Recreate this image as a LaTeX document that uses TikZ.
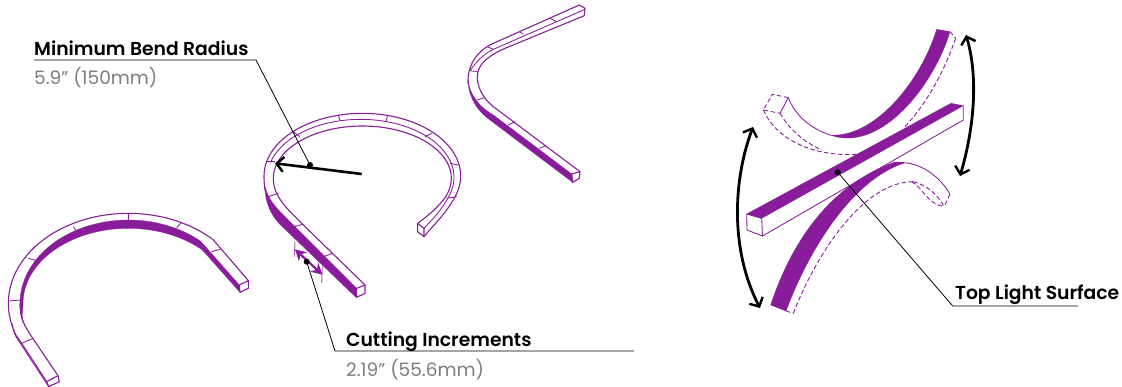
\documentclass[tikz,border=0pt]{standalone}
\usepackage{fontspec}
\setmainfont[BoldFont={Poppins SemiBold}]{Poppins}
\usetikzlibrary{arrows.meta}
\definecolor{pur}{RGB}{136,28,155}
\definecolor{gry}{RGB}{125,125,125}
\tikzset{
  ep/.style={samples=50,variable=\a},
  edge/.style={draw=pur,line width=1.1pt,line join=round},
  thin edge/.style={draw=pur,line width=0.85pt,line join=round},
  dash edge/.style={draw=pur,line width=0.9pt,dash pattern=on 4.5pt off 2.5pt},
  band/.style={fill=pur,draw=pur,line width=0.3pt},
  leader/.style={draw=black,line width=0.8pt},
  dotnode/.style={circle,fill=black,inner sep=0pt,minimum size=6pt},
  head/.style={anchor=base west,inner sep=0pt,font=\bfseries\fontsize{18.75}{20}\selectfont},
  sub/.style={anchor=base west,inner sep=0pt,text=gry,font=\fontsize{18.5}{22}\selectfont},
  bigarrow/.style={draw=black,line width=2.8pt,{Straight Barb[length=7pt,width=15pt,line width=2.4pt]}-{Straight Barb[length=7pt,width=15pt,line width=2.4pt]}},
  onearrow/.style={draw=black,line width=2.6pt,-{Straight Barb[length=7pt,width=15pt,line width=2.4pt]}},
  cutarrow/.style={draw=pur,line width=2.2pt,{Stealth[length=11pt,width=12pt]}-{Stealth[length=11pt,width=12pt]}},
  tick/.style={draw=pur!70,line width=1pt},
  z3/.style={x=0.33333pt,y=-0.33333pt}
}
\begin{document}
\begin{tikzpicture}[x=1pt,y=-1pt]
\useasboundingbox (0,0) rectangle (1122,387);

% LEFT U SHAPE
\begin{scope}[shift={(0,190)},z3]
 \fill[band] plot[ep,domain=180:48] ({385+325*cos(\a)},{340-250*sin(\a)}) -- (718,285) -- (720,307) -- (608,181) -- plot[ep,domain=45:180] ({385+316*cos(\a)},{340-225*sin(\a)}) .. controls (68,360) and (66,380) .. (68,395) .. controls (62,380) and (60,360) .. (60,340);
 \draw[edge] (174,557) -- (95,440) .. controls (75,410) and (60,385) .. (60,340);
 \draw[edge] (140,575) -- (65,460) .. controls (50,440) and (44,430) .. (41,419) -- plot[ep,domain=197:45] ({385+360*cos(\a)},{340-270*sin(\a)}) -- (745,272);
 \draw[thin edge] (146,590) -- (48,440) .. controls (42,428) and (38,415) .. (36,400);
 \draw[edge] (718,285)--(745,272)--(745,295)--(720,307)--cycle;
 \draw[edge] (140,575)--(174,557)--(178,575)--(146,590)--cycle;
 \draw[thin edge] (385,70)--(385,90) (545,97)--(530,113) (220,110)--(230,125) (85,205)--(110,212) (28,333)--(60,330) (65,460)--(100,445) (635,185)--(660,178);
\end{scope}

% MIDDLE SHAPE
\begin{scope}[shift={(250,100)},z3]
 \fill[band] (46,262) .. controls (55,300) and (80,325) .. (110,355) -- (320,565) -- (318,592) -- (95,378) .. controls (70,355) and (50,320) .. (46,280) -- cycle;
 \draw[edge] (345,555) -- (160,375) .. controls (110,325) and (70,290) .. (70,235) -- plot[ep,domain=180:-25] ({337+267*cos(\a)},{235-157*sin(\a)}) .. controls (550,335) and (530,350) .. (503,370);
 \draw[edge] (46,275) .. controls (43,260) and (42,245) .. (42,228) -- plot[ep,domain=180:-20] ({337+295*cos(\a)},{228-188*sin(\a)}) .. controls (585,345) and (550,375) .. (522,410);
 \draw[thin edge] plot[ep,domain=165:-18] ({332+280*cos(\a)},{232-174*sin(\a)}) .. controls (575,330) and (555,350) .. (522,385);
 \draw[edge] (503,370)--(522,385)--(522,410)--(503,395)--cycle;
 \draw[edge] (320,565)--(345,555)--(345,580)--(320,592)--cycle;
 \draw[thin edge] (50,185)--(75,185) (55,290)--(85,280) (135,380)--(160,372) (220,470)--(248,460) (130,95)--(150,110) (265,45)--(270,62) (412,48)--(408,65) (525,110)--(545,100) (600,190)--(625,195) (590,295)--(620,290);
 \draw[tick] (135,425)--(133,470) (217,500)--(215,548);
 \coordinate (cutA) at (135,448);
 \coordinate (cutB) at (217,524);
 \draw[cutarrow] (cutA)--(cutB);
 \coordinate (radC) at (335,222);
 \coordinate (radT) at (75,190);
 \draw[onearrow] (radC)--(radT);
 \node[dotnode] (dotR) at (180,195) {};
 \node[dotnode] (dotC) at (170,485) {};
\end{scope}

% RIGHT TOP SHAPE
\begin{scope}[shift={(450,0)},z3]
 \fill[band] (54,240) .. controls (58,280) and (85,320) .. (130,345) -- (365,522) -- (368,547) -- (120,360) .. controls (85,335) and (60,300) .. (54,250) -- cycle;
 \draw[edge] (54,250) -- (54,240) .. controls (55,190) and (85,150) .. (130,130) -- (388,15);
 \draw[thin edge] (405,28) -- (130,148) .. controls (100,162) and (75,190) .. (60,212);
 \draw[edge] (403,47) -- (165,145) .. controls (110,170) and (80,195) .. (82,235) .. controls (84,270) and (105,300) .. (130,320) -- (390,515);
 \draw[edge] (388,15)--(405,25)--(403,47);
 \draw[edge] (365,522)--(390,515)--(388,535)--(368,547)--cycle;
 \draw[thin edge] (60,212)--(82,215) (80,300)--(105,293) (175,375)--(195,365) (268,445)--(288,437) (112,140)--(130,148) (208,95)--(220,103) (300,55)--(318,65);
\end{scope}

% RIGHT ASSEMBLY: upper curve
\begin{scope}[shift={(730,20)},z3]
 \fill[band] (620,28) .. controls (570,190) and (430,355) .. (300,345) .. controls (450,400) and (610,200) .. (660,35) -- cycle;
 \draw[thin edge] (300,345) .. controls (240,325) and (195,285) .. (175,233);
 \draw[thin edge] (175,233)--(150,280);
 \draw[dash edge] (175,233)--(127,223)--(100,270)--(150,280);
 \draw[dash edge] (100,270) .. controls (140,360) and (250,410) .. (380,403);
 \draw[dash edge] (150,280) .. controls (180,330) and (220,365) .. (275,390);
 \draw[dash edge] (660,35)--(677,55);
 \draw[dash edge] (677,55) .. controls (640,160) and (590,250) .. (525,320);
\end{scope}

% lower curve
\begin{scope}[shift={(730,150)},z3]
 \fill[band] (122,465) .. controls (180,290) and (290,110) .. (490,38) -- (520,40) .. controls (370,90) and (240,290) .. (168,483) -- cycle;
 \draw[thin edge] (490,38) .. controls (570,30) and (630,80) .. (660,133);
 \draw[dash edge] (660,133)--(642,170);
 \draw[dash edge] (168,483)--(190,490);
 \draw[dash edge] (190,490) .. controls (260,310) and (400,95) .. (550,95);
 \draw[dash edge] (550,95) .. controls (590,105) and (625,135) .. (642,170);
 \draw[dash edge] (545,95) .. controls (580,115) and (590,160) .. (642,170);
\end{scope}

% centre bar
\fill[band] (951,103.3)--(963.3,105.7)--(761.7,218.3)--(746.7,214)--cycle;
\draw[thin edge] (746.7,214)--(761.7,218.3)--(762.5,236)--(747,230)--cycle;
\draw[thin edge] (963.3,105.7)--(963.3,120)--(762.5,236);

% big curved arrows
\coordinate (lt) at (753,127);
\coordinate (lb) at (760,308);
\coordinate (rt) at (966,35);
\coordinate (rb) at (960,176);
\draw[bigarrow] (lt) .. controls (733,180) and (730,250) .. (lb);
\draw[bigarrow] (rt) .. controls (978,75) and (975,125) .. (rb);

% labels
\node[head] (lblMin) at (34,56) {Minimum Bend Radius};
\node[sub] (subMin) at (34,85) {5.9” (150mm)};
\node[head] (lblCut) at (346,346) {Cutting Increments};
\node[sub] (subCut) at (346,376) {2.19” (55.6mm)};
\node[head] (lblTop) at (955,299.5) {Top Light Surface};
\node[dotnode] (dotT) at (837.7,172.3) {};

% leaders
\coordinate (mA) at (34,60);
\coordinate (mB) at (256,60);
\coordinate (cA) at (335,351);
\coordinate (cB) at (634,351);
\coordinate (tA) at (952.7,306);
\coordinate (tB) at (1078,306);
\draw[leader] (mA)--(mB)--(dotR.center);
\draw[leader] (dotC.center)--(cA)--(cB);
\draw[leader] (dotT.center)--(tA)--(tB);
\end{tikzpicture}
\end{document}
